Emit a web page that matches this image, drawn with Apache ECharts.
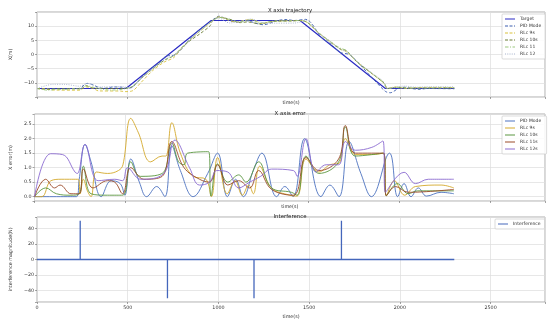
<!DOCTYPE html>
<html><head><meta charset="utf-8">
<script src="https://cdn.jsdelivr.net/npm/echarts@6/dist/echarts.min.js"></script>
<style>html,body{margin:0;padding:0;background:#fff}#c{width:550px;height:323px}</style>
</head><body><div id="c"></div>
<script>
// ---------- Data: X axis trajectory (time s, X m) ----------
const trajTarget = [[0,-12],[490,-12],[960,12],[1450,12],[1920,-12],[2300,-12]];
const trajPID = [[0,-12],[230,-12],[277,-10.2],[366,-12],[420,-11.45],[470,-11.55],[495,-11.95],[528,-11.36],[615,-5.6],[670,-3.15],[715,-0.5],[753,-0.3],[870,7.4],[960,11.8],[1004,13.5],[1058,12],[1103,11.4],[1145,12],[1247,10.5],[1328,12],[1373,12.35],[1418,12],[1481,12.4],[1571,5.8],[1620,3.7],[1670,0.77],[1725,-0.14],[1848,-8.3],[1920,-13],[1947,-13.5],[1992,-12],[2027,-11.55],[2065,-12],[2105,-12.3],[2150,-12],[2300,-12.1]];
const trajRLc9 = [[0,-12],[40,-12],[90,-12.55],[240,-12.6],[250,-12.1],[268,-11.4],[310,-12],[340,-12.85],[460,-12.9],[485,-13.1],[528,-12.76],[570,-10.1],[637,-5.7],[700,-2.7],[753,-1.12],[800,2.33],[870,6.7],[940,10.4],[970,12],[1004,13.35],[1057,12.1],[1100,11.45],[1140,12],[1175,12.4],[1200,12.1],[1235,10.95],[1300,11.7],[1400,11.95],[1450,12],[1489,11.3],[1560,7.23],[1620,4.42],[1670,1.92],[1705,0.98],[1760,-2.38],[1850,-6.97],[1915,-10.24],[1930,-12],[1974,-11.45],[2030,-12],[2090,-11.65],[2230,-11.6],[2300,-11.7]];
const trajRLc10 = [[0,-12],[61,-12.3],[120,-12.1],[245,-12.1],[268,-10.95],[310,-11.9],[483,-12],[528,-11.26],[580,-8.1],[700,-2.1],[753,-0.42],[820,3.75],[900,7.4],[955,10.2],[968,12],[1004,13.1],[1060,12.5],[1120,11.25],[1160,11.5],[1229,10.8],[1300,11.7],[1409,11.85],[1450,12],[1489,11.4],[1560,7.2],[1668,2.07],[1705,1.38],[1760,-2.43],[1850,-6.9],[1915,-10.24],[1930,-12],[1990,-11.55],[2050,-11.9],[2100,-11.8],[2300,-11.8]];
const trajRLc11 = [[0,-12],[61,-12.6],[110,-12.3],[140,-12.4],[200,-12.1],[245,-12.1],[268,-11.05],[320,-11.7],[400,-12.55],[440,-12.5],[483,-12.1],[528,-11.06],[600,-7.0],[700,-2.0],[753,-0.47],[820,3.85],[905,8.6],[960,11.5],[1004,13.1],[1060,12.4],[1120,11.45],[1180,12.3],[1229,11.1],[1300,11.75],[1420,11.95],[1450,12],[1489,11.35],[1560,7.28],[1668,2.37],[1705,1.43],[1760,-2.33],[1850,-6.92],[1915,-10.24],[1930,-12],[1980,-11.65],[2050,-11.85],[2300,-11.75]];
const trajRLc12 = [[0,-12],[88,-10.52],[154,-10.55],[223,-11.16],[235,-11.2],[277,-10.2],[349,-11.45],[440,-11.4],[483,-11.45],[510,-11.98],[582,-7.9],[709,-1.6],[770,0.35],[850,5.4],[905,8.8],[960,11.5],[1000,12.9],[1060,11.15],[1120,11.7],[1180,12.5],[1240,11.3],[1300,11.05],[1420,11.1],[1440,11.3],[1489,12.0],[1543,8.1],[1600,5.44],[1668,1.97],[1705,0.88],[1760,-2.23],[1850,-6.72],[1911,-9.62],[1925,-11.85],[2027,-11.16],[2090,-11.55],[2160,-11.4],[2300,-11.4]];

// ---------- Data: X axis error (time s, error m) ----------
const errPID = [[0,0],[230,0],[245,0.6],[277,1.8],[310,1.2],[366,0],[420,0.55],[470,0.45],[495,0.05],[528,1.3],[575,0.5],[615,0],[670,0.35],[715,0],[753,1.75],[800,0.9],[870,0],[950,0.8],[1004,1.5],[1058,0],[1103,0.6],[1145,0],[1200,0.9],[1247,1.5],[1328,0],[1373,0.35],[1418,0],[1481,2.0],[1571,0],[1620,0.4],[1670,0],[1725,1.9],[1790,0.8],[1848,0],[1947,1.5],[1992,0],[2027,0.45],[2065,0],[2105,0.3],[2150,0.02],[2230,0.15],[2300,0.1]];
const errRLc9 = [[0,0],[40,0],[90,0.55],[150,0.6],[240,0.6],[250,0.1],[268,0.6],[290,0.2],[310,0],[340,0.85],[400,0.8],[460,0.9],[485,1.1],[528,2.7],[570,2.2],[637,1.2],[700,1.4],[720,1.4],[753,2.55],[800,1.5],[870,0.7],[940,0.6],[970,0],[1004,1.35],[1057,0.1],[1100,0.55],[1140,0.05],[1175,0.4],[1200,0.1],[1235,1.05],[1300,0.3],[1400,0.05],[1440,0.02],[1489,1.3],[1560,0.85],[1620,1.1],[1670,1.15],[1705,2.0],[1760,1.45],[1850,1.45],[1915,1.5],[1930,0.03],[1974,0.55],[2030,0.05],[2090,0.35],[2230,0.4],[2300,0.3]];
const errRLc10 = [[0,0],[61,0.3],[120,0.1],[200,0.05],[245,0.1],[268,1.05],[310,0.1],[400,0.05],[483,0.05],[528,1.2],[580,0.7],[700,0.8],[753,1.85],[790,1.2],[820,1.1],[840,1.5],[955,1.55],[968,0.02],[1004,1.13],[1060,0.5],[1120,0.75],[1160,0.5],[1229,1.2],[1300,0.3],[1409,0.15],[1440,0.05],[1489,1.4],[1560,0.8],[1668,1.2],[1705,2.4],[1760,1.4],[1915,1.5],[1930,0.03],[1990,0.45],[2050,0.1],[2100,0.2],[2300,0.2]];
const errRLc11 = [[0,0],[61,0.6],[110,0.3],[140,0.4],[200,0.1],[245,0.1],[268,0.95],[320,0.3],[400,0.55],[440,0.5],[483,0.1],[528,1.0],[600,0.6],[700,0.7],[753,1.9],[820,1.0],[905,0.6],[960,0.5],[1004,1.1],[1060,0.4],[1120,0.55],[1180,0.3],[1229,0.9],[1300,0.25],[1420,0.05],[1489,1.35],[1560,0.9],[1668,1.3],[1705,2.45],[1760,1.5],[1915,1.5],[1930,0.03],[1980,0.35],[2050,0.15],[2300,0.25]];
const errRLc12 = [[0,0],[88,1.48],[154,1.45],[223,0.84],[235,0.8],[277,1.8],[349,0.55],[440,0.6],[483,0.55],[510,1.0],[582,0.6],[709,0.8],[770,1.95],[850,1.0],[905,0.4],[960,0.5],[1000,0.9],[1060,0.85],[1120,0.3],[1180,0.5],[1240,0.7],[1300,0.95],[1420,0.9],[1440,0.7],[1489,2.0],[1543,0.85],[1600,1.1],[1668,1.1],[1705,1.9],[1760,1.6],[1850,1.7],[1911,1.92],[1925,0.15],[2027,0.84],[2090,0.45],[2160,0.6],[2300,0.6]];

// ---------- Data: Interference (time s, magnitude N) ----------
const interfEnd = 2300;
const spikeTimes = [238, 719, 1196, 1678];
const spikeValues = [50, -50, -50, 50];

// ---------- Build ----------
const interfData = [[0, 0]];
spikeTimes.forEach((t, i) => { interfData.push([t, 0], [t, spikeValues[i]], [t, 0]); });
interfData.push([interfEnd, 0]);

const FONT = 'DejaVu Sans';
const minus = s => String(s).replace('-', '\u2212');
const tickFmt = (step, dec, lim) => v => {
  const k = v / step;
  if (Math.abs(v) > lim + 1e-9) return '';
  return Math.abs(k - Math.round(k)) < 1e-6 ? minus(v.toFixed(dec)) : '';
};
const grids = [
  {left: 25, right: 5, top: 12, height: 85},
  {left: 25, right: 5, top: 114, height: 87},
  {left: 25, right: 5, top: 217, height: 85}
];
grids.forEach(g => { g.show = true; g.borderColor = '#999'; g.borderWidth = 0.8; g.backgroundColor = '#fff'; });

function xAxis(i, showLabels, nameGap) {
  return {
    type: 'value', gridIndex: i, min: 0, max: 2800, interval: 500,
    name: 'time(s)', nameLocation: 'middle', nameGap: nameGap,
    nameTextStyle: {fontFamily: FONT, fontSize: 4.8, color: '#333'},
    axisLine: {show: false, onZero: false},
    axisTick: {show: true, length: 2, lineStyle: {color: '#666', width: 0.6}},
    axisLabel: {show: showLabels, fontFamily: FONT, fontSize: 4.8, color: '#333', margin: 3, formatter: tickFmt(500, 0, 2500)},
    splitLine: {show: true, lineStyle: {color: '#ddd', width: 0.7}}
  };
}
function yAxis(i, min, max, extra, name, nameGap, fmt) {
  return Object.assign({
    type: 'value', gridIndex: i, min: min, max: max,
    name: name, nameLocation: 'middle', nameGap: nameGap, nameRotate: 90,
    nameTextStyle: {fontFamily: FONT, fontSize: 4.8, color: '#333'},
    axisLine: {show: false, onZero: false},
    axisTick: {show: true, length: 2, lineStyle: {color: '#666', width: 0.6}},
    axisLabel: {fontFamily: FONT, fontSize: 4.8, color: '#333', margin: 3, formatter: fmt},
    splitLine: {show: true, lineStyle: {color: '#ddd', width: 0.7}}
  }, extra);
}

function line(name, data, xi, color, type, width, smooth) {
  return {
    name: name, type: 'line', xAxisIndex: xi, yAxisIndex: xi, data: data,
    showSymbol: false, symbol: 'none', smooth: smooth,
    lineStyle: {color: color, width: width, type: type},
    itemStyle: {color: color}, color: color, animation: false, z: 3,
    emphasis: {disabled: true}
  };
}

const C = {
  target: '#2b2bc4', pidT: '#3d5fb0', r9T: '#d9c23c', r10T: '#6b7d35', r11T: '#9cc77e', r12T: '#a9b6cf',
  pid: '#4c72c0', r9: '#d4a82a', r10: '#5a9640', r11: '#9a4a28', r12: '#8a6ad0', inter: '#4466bb'
};
const ICON = {
  solid: 'path://M0,0h10v1h-10z',
  dashed: 'path://M0,0h3v1h-3zM4.5,0h3v1h-3zM9,0h1v1h-1z',
  dashdot: 'path://M0,0h3.5v1h-3.5zM5,0h1v1h-1zM7.5,0h2.5v1h-2.5z',
  dotted: 'path://M0,0h1v1h-1zM2.25,0h1v1h-1zM4.5,0h1v1h-1zM6.75,0h1v1h-1zM9,0h1v1h-1z'
};

const legendBase = {
  orient: 'vertical', itemWidth: 10, itemHeight: 1.1, itemGap: 2,
  itemStyle: {borderWidth: 0},
  textStyle: {fontFamily: FONT, fontSize: 4.5, color: '#333'},
  borderColor: '#ccc', borderWidth: 0.7, borderRadius: 1, backgroundColor: 'rgba(255,255,255,0.85)',
  padding: [2.5, 4, 2.5, 3], selectedMode: false
};
const lg = (name, icon) => ({name: name, icon: icon});

const option = {
  animation: false,
  backgroundColor: '#fff',
  title: [
    {text: 'X axis trajectory', left: 285, top: 3, textAlign: 'center', textStyle: {fontFamily: FONT, fontSize: 5.4, fontWeight: 'normal', color: '#222'}},
    {text: 'X axis error', left: 285, top: 106, textAlign: 'center', textStyle: {fontFamily: FONT, fontSize: 5.4, fontWeight: 'normal', color: '#222'}},
    {text: 'Interference', left: 285, top: 209, textAlign: 'center', textStyle: {fontFamily: FONT, fontSize: 5.4, fontWeight: 'normal', color: '#222'}}
  ],
  grid: grids,
  xAxis: [xAxis(0, false, 3), xAxis(1, false, 3), xAxis(2, true, 12)],
  yAxis: [
    yAxis(0, -15, 15, {interval: 5}, 'X(m)', 16, tickFmt(5, 0, 10)),
    yAxis(1, -0.15, 2.85, {splitNumber: 6}, 'X error(m)', 13, tickFmt(0.5, 1, 2.5)),
    yAxis(2, -55, 55, {splitNumber: 5}, 'interference magnitude(N)', 11, tickFmt(20, 0, 40))
  ],
  legend: [
    Object.assign({}, legendBase, {left: 502, top: 14, data: [
      lg('Target', ICON.solid), lg('PID Mode', ICON.dashed), lg('RLc 9s', ICON.dashed),
      lg('RLc 10s', ICON.dashed), lg('RLc 11', ICON.dashdot), lg('RLc 12', ICON.dotted)]}),
    Object.assign({}, legendBase, {left: 502, top: 116, data: [
      lg('PID Mode ', ICON.solid), lg('RLc 9s ', ICON.solid), lg('RLc 10s ', ICON.solid),
      lg('RLc 11s', ICON.solid), lg('RLc 12s', ICON.solid)]}),
    Object.assign({}, legendBase, {left: 495, top: 219, data: [lg('Interference', ICON.solid)]})
  ],
  series: [
    line('Target', trajTarget, 0, C.target, 'solid', 1.2, false),
    line('PID Mode', trajPID, 0, C.pidT, [3, 2], 0.9, 0.3),
    line('RLc 9s', trajRLc9, 0, C.r9T, [3, 2], 0.9, 0.3),
    line('RLc 10s', trajRLc10, 0, C.r10T, [3, 2], 0.9, 0.3),
    line('RLc 11', trajRLc11, 0, C.r11T, [3, 1.5, 1, 1.5], 0.9, 0.3),
    line('RLc 12', trajRLc12, 0, C.r12T, [1, 1.3], 0.9, 0.3),
    line('PID Mode ', errPID, 1, C.pid, 'solid', 0.9, 0.4),
    line('RLc 9s ', errRLc9, 1, C.r9, 'solid', 0.9, 0.4),
    line('RLc 10s ', errRLc10, 1, C.r10, 'solid', 0.9, 0.4),
    line('RLc 11s', errRLc11, 1, C.r11, 'solid', 0.9, 0.4),
    line('RLc 12s', errRLc12, 1, C.r12, 'solid', 0.9, 0.4),
    line('Interference', interfData, 2, C.inter, 'solid', 1.3, false)
  ]
};
const chart = echarts.init(document.getElementById('c'), null, {renderer: 'canvas'});
chart.setOption(option);
</script>
</body></html>
